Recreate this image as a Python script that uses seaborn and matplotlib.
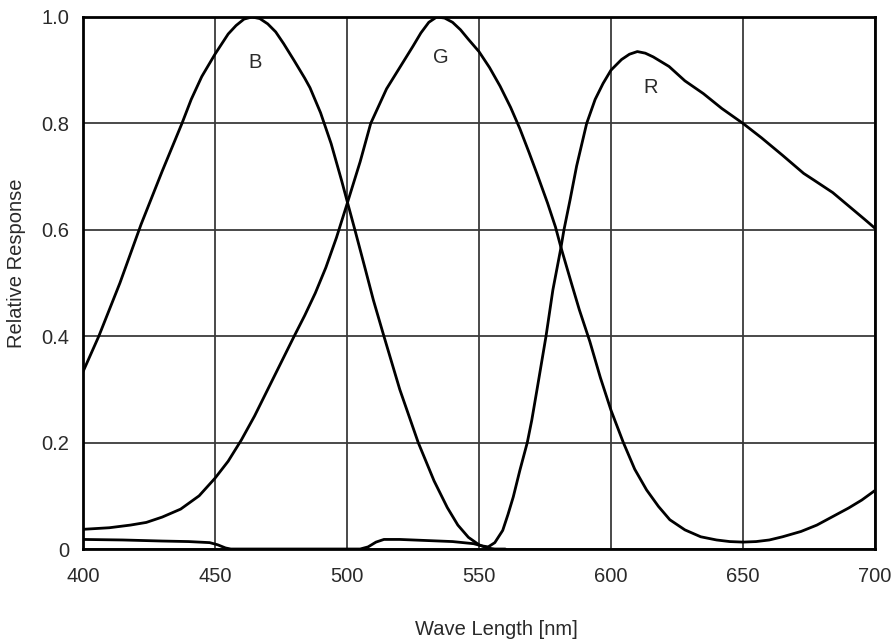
import numpy as np
import pandas as pd
import matplotlib
matplotlib.use("Agg")
import matplotlib.pyplot as plt
import seaborn as sns

# Values (wavelength in nm, relative response)
b_wl = [400, 406, 414, 422, 430, 437.5, 441, 445, 450, 455, 458, 461, 464, 467, 470,
        473, 476, 480, 484, 486, 490, 494, 498, 500, 503, 507, 510, 514, 520, 527,
        533, 538, 542, 546, 550, 553, 556, 560]
b_val = [0.333, 0.40, 0.50, 0.61, 0.71, 0.80, 0.845, 0.888, 0.930, 0.968, 0.984,
         0.996, 1.0, 0.997, 0.987, 0.972, 0.950, 0.918, 0.885, 0.867, 0.820, 0.762,
         0.692, 0.655, 0.60, 0.525, 0.468, 0.40, 0.30, 0.20, 0.128, 0.078, 0.045,
         0.022, 0.008, 0.002, 0.0, 0.0]

g_wl = [400, 410, 418, 424, 430, 437, 444, 450, 455, 460, 465, 470, 475, 480, 484,
        488, 492, 496, 500, 505, 509, 515, 520, 525, 528, 531, 534, 537, 540, 543,
        546, 550, 554, 558, 562, 565.5, 569, 572, 576, 579, 581, 585, 588, 592, 596,
        600, 604.7, 609, 613.5, 618, 622.3, 628, 634, 640, 645, 650, 655, 660, 665,
        672, 678, 684, 690, 695, 700]
g_val = [0.037, 0.040, 0.045, 0.050, 0.060, 0.075, 0.100, 0.133, 0.165, 0.205, 0.250,
         0.300, 0.350, 0.400, 0.439, 0.481, 0.529, 0.585, 0.648, 0.728, 0.800, 0.865,
         0.905, 0.945, 0.970, 0.990, 1.0, 0.998, 0.990, 0.976, 0.958, 0.935, 0.905,
         0.870, 0.830, 0.790, 0.745, 0.705, 0.650, 0.605, 0.568, 0.500, 0.450, 0.390,
         0.322, 0.261, 0.200, 0.150, 0.111, 0.080, 0.055, 0.036, 0.023, 0.017, 0.014,
         0.013, 0.014, 0.017, 0.023, 0.033, 0.045, 0.061, 0.077, 0.092, 0.110]

r_wl = [400, 415, 430, 440, 448, 451, 454, 456, 505, 508, 511, 514, 520, 530, 540,
        548, 551, 553.5, 556, 559, 561, 563, 565.5, 568.3, 570, 572, 575.4, 578, 581,
        582.2, 584.5, 587, 590.8, 594, 597, 600, 604, 607, 610, 613, 616, 622, 628,
        635, 642, 650, 657, 665, 673, 677, 684, 690, 696, 700]
r_val = [0.018, 0.017, 0.015, 0.014, 0.012, 0.008, 0.002, 0.0, 0.0, 0.004, 0.013,
         0.018, 0.018, 0.016, 0.014, 0.010, 0.006, 0.004, 0.012, 0.035, 0.065, 0.098,
         0.148, 0.200, 0.242, 0.300, 0.400, 0.487, 0.565, 0.600, 0.656, 0.720, 0.800,
         0.845, 0.875, 0.900, 0.920, 0.930, 0.935, 0.932, 0.925, 0.907, 0.880, 0.856,
         0.828, 0.800, 0.773, 0.740, 0.706, 0.693, 0.670, 0.645, 0.620, 0.603]

x_ticks = [400, 450, 500, 550, 600, 650, 700]
y_ticks = [0, 0.2, 0.4, 0.6, 0.8, 1.0]
y_tick_labels = ["0", "0.2", "0.4", "0.6", "0.8", "1.0"]

# curve names and where their letters sit
curve_labels = ["B", "G", "R"]
label_pos = [(465.2, 0.915), (535.6, 0.923), (615.2, 0.867)]

df = pd.concat([
    pd.DataFrame({"wl": b_wl, "val": b_val, "curve": "B"}),
    pd.DataFrame({"wl": g_wl, "val": g_val, "curve": "G"}),
    pd.DataFrame({"wl": r_wl, "val": r_val, "curve": "R"}),
])

sns.set_theme(style="white")
plt.rcParams['font.family'] = ['Liberation Sans', 'DejaVu Sans']

fig = plt.figure(figsize=(8.94, 6.41), dpi=100)
ax = fig.add_axes([0.0928, 0.1435, 0.8859, 0.83])

sns.lineplot(data=df, x="wl", y="val", units="curve", estimator=None,
             color="black", linewidth=2.0, sort=False, ax=ax, legend=False,
             solid_joinstyle="round", solid_capstyle="round")

ax.set_xlim(400, 700)
ax.set_ylim(0, 1.0)
ax.set_xticks(x_ticks)
ax.set_yticks(y_ticks)
ax.set_yticklabels(y_tick_labels)
ax.grid(True, color="#3a3a3a", linewidth=1.3)
ax.set_axisbelow(True)

for sp in ax.spines.values():
    sp.set_color("black")
    sp.set_linewidth(2.0)

ax.tick_params(axis="both", length=0, labelsize=14.5, labelcolor="#2a2a2a")
ax.tick_params(axis="x", pad=13)
ax.tick_params(axis="y", pad=10)

ax.set_xlabel("Wave Length [nm]", fontsize=14.5, color="#2a2a2a")
ax.set_ylabel("Relative Response", fontsize=14.5, color="#2a2a2a")
ax.xaxis.set_label_coords(0.522, -0.133)
ax.yaxis.set_label_coords(-0.072, 0.538)

for name, (lx, ly) in zip(curve_labels, label_pos):
    ax.text(lx, ly, name, fontsize=14.5, color="#2a2a2a", ha="center", va="center")

fig.savefig("out.png", dpi=100)
